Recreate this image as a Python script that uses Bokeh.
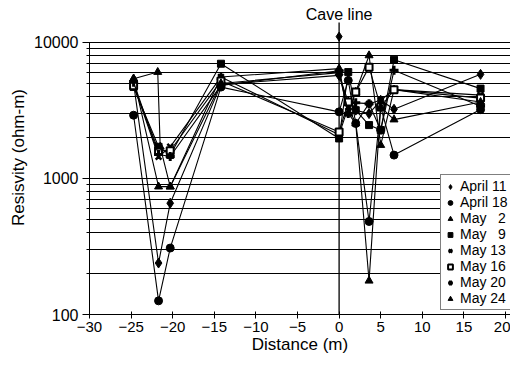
from bokeh.plotting import figure
from bokeh.models import (Range1d, FixedTicker, NumeralTickFormatter, Legend, LegendItem,
                          Label, ColumnDataSource)
from bokeh.embed import file_html
from bokeh.resources import INLINE

# ---------------- data ----------------
x_pos = [-24.7, -21.7, -20.3, -14.2, 0.0, 1.1, 2.0, 3.6, 5.0, 6.6, 17.0]
x_may24 = [-24.7, -21.8, -21.5, -20.3, -14.2, 0.0, 1.1, 2.0, 3.6, 5.0, 6.6, 17.0]

april11 = [5000, 239, 658, 4900, 5730, 3650, 3180, 3000, 3760, 3230, 5830]
april18 = [2920, 126, 308, 4700, 3090, 5260, 2540, 483, 3350, 1486, 3210]
may2 = [5420, 871, 871, 5570, 6420, 3000, 4330, 8030, 1760, 4500, 3650]
may9 = [4710, 1710, 1490, 6980, 1970, 6060, 3180, 2470, 2270, 7460, 4580]
may13 = [4900, 1445, 1710, 5570, 2100, 3350, 2540, 3550, 3760, 4500, 4100]
may16 = [4800, 1600, 1600, 5200, 2200, 3650, 4330, 6590, 3350, 4500, 3900]
may20 = [5100, 1500, 1450, 4840, 6200, 3000, 3600, 3550, 2270, 6240, 3400]
may24 = [5420, 6060, 1710, 871, 5000, 6000, 3000, 2540, 177, 3350, 2710, 3650]

series_labels = ["April 11", "April 18", "May   2", "May   9", "May 13", "May 16", "May 20", "May 24"]

cave_x = [0.0]
cave_bottom = [100]
cave_top = [14000]
cave_marker_y = [11050]

x_ticks = [-30, -25, -20, -15, -10, -5, 0, 5, 10, 15, 20]
y_major = [100, 1000, 10000]
y_minor = [200, 300, 400, 500, 600, 700, 800, 900,
           2000, 3000, 4000, 5000, 6000, 7000, 8000, 9000]

FONT = "Liberation Sans"

p = figure(width=510, height=360, output_backend="svg", toolbar_location=None,
           y_axis_type="log",
           x_range=Range1d(-30, 20.6), y_range=Range1d(100, 20360),
           min_border_left=89, min_border_right=0, min_border_top=0, min_border_bottom=46)
p.outline_line_color = None
p.background_fill_color = "white"
p.border_fill_color = "white"

# axes
p.xaxis.ticker = FixedTicker(ticks=x_ticks)
p.xaxis.minor_tick_line_color = None
p.xaxis.major_tick_in = 3
p.xaxis.major_tick_out = 4
p.xaxis.axis_label = "Distance (m)"
p.yaxis.ticker = FixedTicker(ticks=y_major, minor_ticks=y_minor)
p.yaxis.formatter = NumeralTickFormatter(format="0")
p.yaxis.major_tick_in = 3
p.yaxis.major_tick_out = 7
p.yaxis.minor_tick_in = 3
p.yaxis.minor_tick_out = 3
p.yaxis.bounds = (100, 10000)
p.yaxis.axis_label = "Resisvity (ohm-m)"
for ax in (p.xaxis[0], p.yaxis[0]):
    ax.axis_line_color = "black"
    ax.major_tick_line_color = "black"
    ax.major_label_text_font = FONT
    ax.major_label_text_color = "black"
    ax.axis_label_text_font = FONT
    ax.axis_label_text_font_size = "17px"
    ax.axis_label_text_font_style = "normal"
    ax.axis_label_text_color = "black"
p.xaxis.major_label_text_font_size = "15px"
p.yaxis.major_label_text_font_size = "16px"
p.yaxis.minor_tick_line_color = "black"
p.xaxis.major_label_standoff = 3
p.xaxis.axis_label_standoff = 0
p.yaxis.major_label_standoff = 4
p.yaxis.axis_label_standoff = 3

# grid
p.xgrid.grid_line_color = None
p.ygrid.grid_line_color = "black"
p.ygrid.minor_grid_line_color = "black"
p.ygrid.grid_line_width = 1
p.ygrid.minor_grid_line_width = 1

# cave line
p.segment(x0=cave_x, y0=cave_bottom, x1=cave_x, y1=cave_top, line_color="black", line_width=1.3)
p.scatter(x=cave_x, y=cave_marker_y, marker="diamond", size=9, color="black")
p.add_layout(Label(x=0, y=16000, text="Cave line", text_align="center", text_baseline="middle",
                   text_font=FONT, text_font_size="16px", text_color="black"))

styles = [
    dict(marker="diamond", size=10, fill_color="black", line_color="black", line_width=1),
    dict(marker="circle", size=8, fill_color="black", line_color="black", line_width=1),
    dict(marker="triangle", size=8, fill_color="black", line_color="black", line_width=1),
    dict(marker="square", size=7, fill_color="black", line_color="black", line_width=1),
    dict(marker="x", size=8, fill_color="black", line_color="black", line_width=2.5),
    dict(marker="square", size=7, fill_color="white", line_color="black", line_width=2),
    dict(marker="cross", size=9, fill_color="black", line_color="black", line_width=3),
    dict(marker="triangle", size=8, fill_color="black", line_color="black", line_width=1),
]
all_series = [(x_pos, april11), (x_pos, april18), (x_pos, may2), (x_pos, may9),
              (x_pos, may13), (x_pos, may16), (x_pos, may20), (x_may24, may24)]

items = []
for (xs, ys), lab, st in zip(all_series, series_labels, styles):
    src = ColumnDataSource(dict(x=xs, y=ys))
    p.line("x", "y", source=src, line_color="black", line_width=1.1)
    r = p.scatter("x", "y", source=src, **st)
    items.append(LegendItem(label=lab, renderers=[r]))

legend = Legend(items=items, location=(351, 4))
legend.label_text_font = FONT
legend.label_text_font_size = "14px"
legend.label_text_color = "black"
legend.label_height = 15
legend.glyph_height = 15
legend.glyph_width = 12
legend.label_standoff = 4
legend.spacing = 0
legend.padding = 3
legend.margin = 0
legend.border_line_color = "black"
legend.border_line_width = 1
legend.background_fill_alpha = 1
p.add_layout(legend)

open("out.html", "w").write(file_html(p, INLINE))
